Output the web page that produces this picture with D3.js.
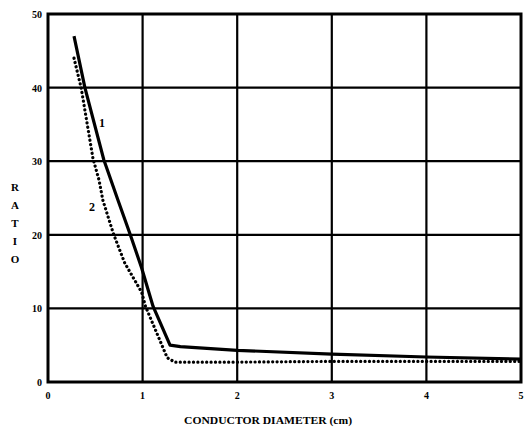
<!DOCTYPE html>
<html>
<head>
<meta charset="utf-8">
<script src="https://cdn.jsdelivr.net/npm/d3@7"></script>
<style>
  html, body { margin: 0; padding: 0; background: #fff; }
  svg { display: block; }
  text { font-family: "Liberation Serif", "DejaVu Serif", serif; font-weight: bold; fill: #000; }
</style>
</head>
<body>
<svg id="chart" width="526" height="431"></svg>
<script>
// Curve 1 (solid) and curve 2 (dotted): ratio vs conductor diameter (cm)
const curve1X = [0.275, 0.39, 0.59, 0.74, 0.87, 0.99, 1.11, 1.29, 1.40, 2.0, 3.0, 4.0, 5.0];
const curve1Y = [47.0, 40.0, 30.2, 24.7, 20.0, 15.5, 10.3, 5.0, 4.8, 4.3, 3.8, 3.4, 3.1];
const curve2X = [0.275, 0.35, 0.475, 0.54, 0.58, 0.69, 0.81, 0.99, 1.03, 1.26, 1.34, 2.0, 3.0, 4.0, 5.0];
const curve2Y = [44.0, 40.0, 30.4, 27.4, 24.7, 20.2, 16.2, 12.2, 10.3, 3.3, 2.7, 2.7, 2.8, 2.8, 2.8];
const xTicks = [0, 1, 2, 3, 4, 5];
const yTicks = [0, 10, 20, 30, 40, 50];
const xTickLabels = ["0", "1", "2", "3", "4", "5"];
const yTickLabels = ["0", "10", "20", "30", "40", "50"];
const yLetters = ["R", "A", "T", "I", "O"];

const svg = d3.select("#chart");
const plotLeft = 48, plotRight = 521, plotTop = 14, plotBottom = 382;
const x = d3.scaleLinear().domain([0, 5]).range([plotLeft, plotRight]);
const y = d3.scaleLinear().domain([0, 50]).range([plotBottom, plotTop]);

// grid lines
svg.append("g").selectAll("line").data(xTicks.slice(1, -1)).join("line")
  .attr("x1", d => x(d)).attr("x2", d => x(d))
  .attr("y1", plotTop).attr("y2", plotBottom)
  .attr("stroke", "#000").attr("stroke-width", 2.2);
svg.append("g").selectAll("line").data(yTicks.slice(1, -1)).join("line")
  .attr("x1", plotLeft).attr("x2", plotRight)
  .attr("y1", d => y(d)).attr("y2", d => y(d))
  .attr("stroke", "#000").attr("stroke-width", 2.2);

// frame
svg.append("rect")
  .attr("x", plotLeft).attr("y", plotTop)
  .attr("width", plotRight - plotLeft).attr("height", plotBottom - plotTop)
  .attr("fill", "none").attr("stroke", "#000").attr("stroke-width", 3);

// tick labels
svg.append("g").selectAll("text").data(yTicks).join("text")
  .attr("x", plotLeft - 6).attr("y", d => y(d) + 4)
  .attr("text-anchor", "end").attr("font-size", 10)
  .text((d, i) => yTickLabels[i]);
svg.append("g").selectAll("text").data(xTicks).join("text")
  .attr("x", d => x(d)).attr("y", plotBottom + 17)
  .attr("text-anchor", "middle").attr("font-size", 10)
  .text((d, i) => xTickLabels[i]);

// axis titles
svg.append("text")
  .attr("x", 268).attr("y", 424)
  .attr("text-anchor", "middle").attr("font-size", 10)
  .attr("textLength", 168).attr("lengthAdjust", "spacingAndGlyphs")
  .text("CONDUCTOR DIAMETER (cm)");
svg.append("g").selectAll("text").data(yLetters).join("text")
  .attr("x", 15).attr("y", (d, i) => 191 + i * 18)
  .attr("text-anchor", "middle").attr("font-size", 11)
  .text(d => d);

const line = d3.line().x(d => x(d[0])).y(d => y(d[1]));

// curve 2 (dotted)
svg.append("path")
  .datum(d3.zip(curve2X, curve2Y))
  .attr("d", line)
  .attr("fill", "none").attr("stroke", "#000")
  .attr("stroke-width", 3.2).attr("stroke-linecap", "round")
  .attr("stroke-dasharray", "0.1 4.3");

// curve 1 (solid)
svg.append("path")
  .datum(d3.zip(curve1X, curve1Y))
  .attr("d", line)
  .attr("fill", "none").attr("stroke", "#000")
  .attr("stroke-width", 3.2).attr("stroke-linejoin", "round");

// curve labels
svg.append("text").attr("x", 102).attr("y", 127).attr("font-size", 12).attr("text-anchor", "middle").text("1");
svg.append("text").attr("x", 92).attr("y", 211).attr("font-size", 12).attr("text-anchor", "middle").text("2");
</script>
</body>
</html>
